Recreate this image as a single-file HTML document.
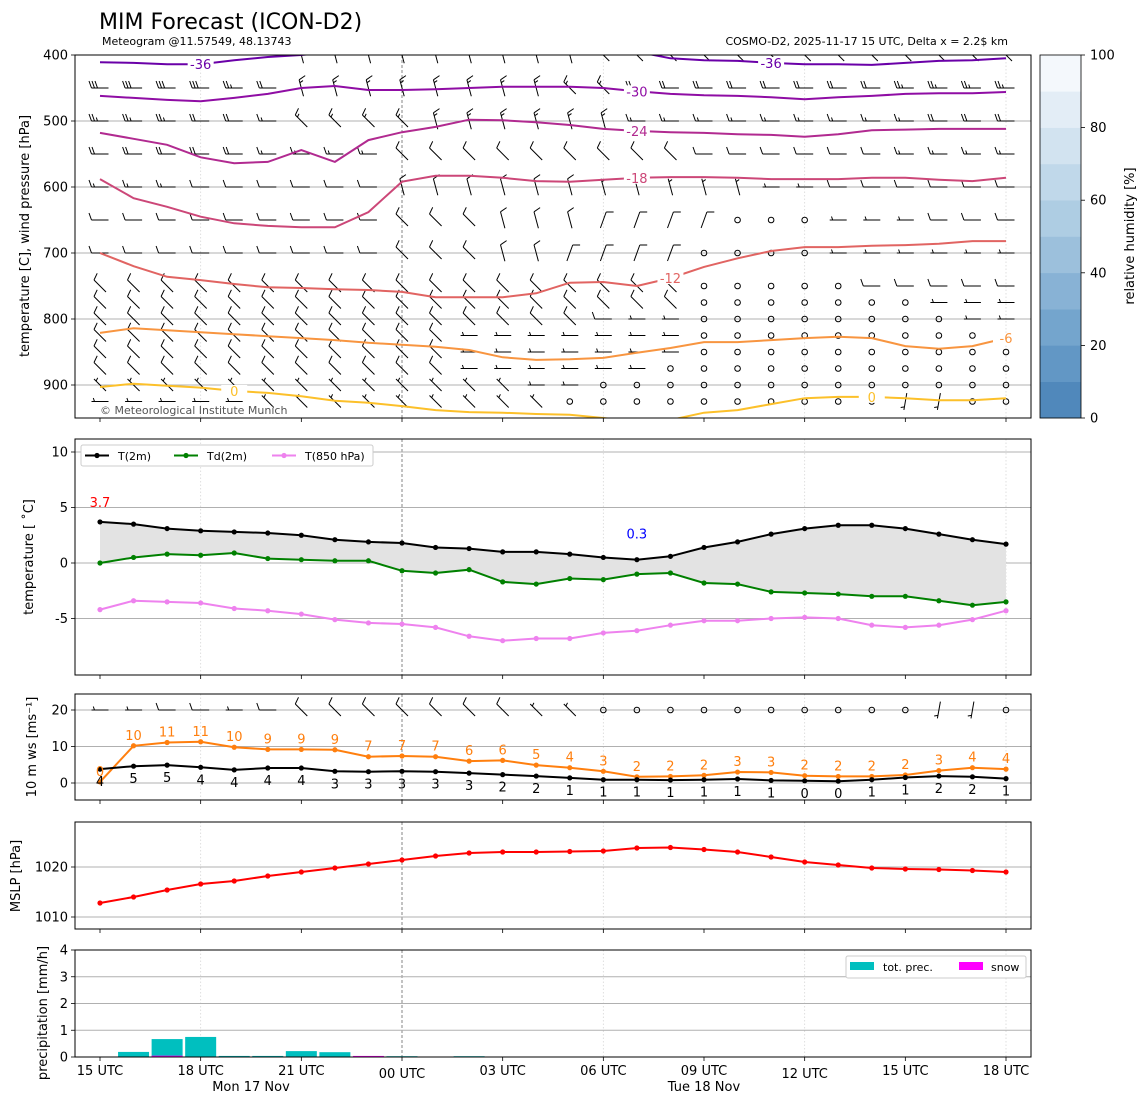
<!DOCTYPE html>
<html><head><meta charset="utf-8">
<style>
html,body{margin:0;padding:0;background:#fff;}
svg{display:block;font-family:"DejaVu Sans","Liberation Sans",sans-serif;}
</style></head>
<body>
<svg id="chart" width="1148" height="1105" viewBox="0 0 1148 1105" xmlns="http://www.w3.org/2000/svg">
<defs>
<clipPath id="c1"><rect x="75" y="55" width="956" height="363"/></clipPath>
<clipPath id="c2"><rect x="75" y="439" width="956" height="236"/></clipPath>
</defs>
<text x="99" y="29" font-size="22" fill="#000">MIM Forecast (ICON-D2)</text>
<text x="102" y="45" font-size="11" fill="#000">Meteogram @11.57549, 48.13743</text>
<text x="1008" y="45" font-size="11" fill="#000" text-anchor="end">COSMO-D2, 2025-11-17 15 UTC, Delta x = 2.2$ km</text>
<g id="root"></g>
</svg>
<script>
// ---------- data ----------
const hours = [15,16,17,18,19,20,21,22,23,0,1,2,3,4,5,6,7,8,9,10,11,12,13,14,15,16,17,18];
const xTickLabels = ["15 UTC","18 UTC","21 UTC","00 UTC","03 UTC","06 UTC","09 UTC","12 UTC","15 UTC","18 UTC"];
const isoLevels = [-36,-30,-24,-18,-12,-6,0];
const iso_m36 = [411,412,414,414,408,403,400,395,395,395,395,395,395,395,395,395,395,405,408,409,412,414,414,415,412,409,408,405];
const iso_m30 = [462,465,468,470,465,459,450,447,453,453,452,450,448,448,448,450,455,459,461,462,464,467,464,462,459,458,458,456];
const iso_m24 = [518,527,536,555,564,562,544,562,529,517,509,498,499,502,506,512,515,517,518,520,521,524,520,514,513,512,512,512];
const iso_m18 = [588,617,630,645,655,659,661,661,638,592,583,583,586,591,592,589,586,585,585,586,588,588,588,586,586,589,591,586];
const iso_m12 = [700,720,736,741,747,752,753,755,756,759,767,767,767,761,745,744,750,738,721,708,697,691,691,689,688,686,682,682];
const iso_m6  = [821,814,817,820,823,826,829,832,836,839,842,847,858,862,861,859,851,844,835,835,832,829,827,829,841,845,841,829];
const iso_0   = [903,898,901,904,909,912,917,924,927,932,938,941,942,944,945,950,956,953,942,938,929,920,918,918,920,923,923,920];
const windLevels = [400,450,500,550,600,650,700,750,775,800,825,850,875,900,925];
const windDir = [
"WWWWWWVVVVVVVVVNNNNNNNNNNNNN","WWWWWWVVVVVVVVNNWWWWWWWWWWWW","WWWWWWNNNNVVVVVVWWWWWWWWWWWW",
"WWWWWWWWWNNNNNNNNNWWWWWWWWWW","WWWWWWWWWVVVVVVVVVVVWWWWWWWW","WWWWWWWWWNNNVVVEEEEWWWWWWWWW",
"WWWWWWWWWNNNVVEEEEWWWWWWWWWW","NNNNNNNNNNNNNNNNNNWWWWWWWWWW","NNNNNNNNNNNNNNNNNNWWWWWWWWWW",
"NNNNNNNNNNNNNNNWWWWWWWWWWWWW","NNNNNNNNNNNWWWWWWWWWWWWWWWWW","NNNNNNNNNNNWWWWWWWWWWWWWWWWW",
"NNNNNNNNNNNWWWWWWWWWWWWWWWWW","NNNNNNNNNNNNNWWWWWWWWWWWWWWW","WWWWWNNNNNNNNNWWWWWWWWWWSSWW"];
const windSpd = [
"6666663333333333444444444444","6666543333333333444444445555","5554433333333333333333333444",
"4444433332222222222222223333","3332222222222221111111222222","2222222222222222222000111222",
"2222222222222222220000111111","2222222222222222220000022222","2222222222222222220000000111",
"2222222222222222110000000011","2222222222211111110000000000","2222222222211111110000000000",
"2222222222211111100000000000","1111111111111110000000000000","1111111111111100000000001100"];
const t2m  = [3.7,3.5,3.1,2.9,2.8,2.7,2.5,2.1,1.9,1.8,1.4,1.3,1.0,1.0,0.8,0.5,0.3,0.6,1.4,1.9,2.6,3.1,3.4,3.4,3.1,2.6,2.1,1.7];
const td2m = [0.0,0.5,0.8,0.7,0.9,0.4,0.3,0.2,0.2,-0.7,-0.9,-0.6,-1.7,-1.9,-1.4,-1.5,-1.0,-0.9,-1.8,-1.9,-2.6,-2.7,-2.8,-3.0,-3.0,-3.4,-3.8,-3.5];
const t850 = [-4.2,-3.4,-3.5,-3.6,-4.1,-4.3,-4.6,-5.1,-5.4,-5.5,-5.8,-6.6,-7.0,-6.8,-6.8,-6.3,-6.1,-5.6,-5.2,-5.2,-5.0,-4.9,-5.0,-5.6,-5.8,-5.6,-5.1,-4.3];
const ws10 = [3.8,4.6,4.9,4.3,3.6,4.1,4.1,3.2,3.1,3.2,3.1,2.7,2.3,1.9,1.4,0.9,0.9,0.8,0.9,1.1,0.7,0.6,0.5,0.9,1.5,1.9,1.7,1.2];
const ws10Labels = [4,5,5,4,4,4,4,3,3,3,3,3,2,2,1,1,1,1,1,1,1,0,0,1,1,2,2,1];
const gust = [0.3,10.2,11.1,11.3,9.8,9.2,9.2,9.1,7.2,7.4,7.2,6.0,6.2,4.9,4.2,3.2,1.7,1.8,2.1,3.0,2.9,2.0,1.8,1.8,2.2,3.4,4.2,3.8];
const gustLabels = [0,10,11,11,10,9,9,9,7,7,7,6,6,5,4,3,2,2,2,3,3,2,2,2,2,3,4,4];
const wind10Dir = "WWWWWWNNNNNNNNNWWWWWWWWWWSSW";
const wind10Spd = "1122122222222110000000000110";
const mslp = [1012.8,1014.0,1015.4,1016.6,1017.2,1018.2,1019.0,1019.8,1020.6,1021.4,1022.2,1022.8,1023.0,1023.0,1023.1,1023.2,1023.8,1023.9,1023.5,1023.0,1022.0,1021.0,1020.4,1019.8,1019.6,1019.5,1019.3,1019.0];
const precTot  = [0,0.19,0.67,0.75,0.04,0.04,0.22,0.18,0,0.03,0,0.03,0,0,0,0,0,0,0,0,0,0,0,0,0,0,0,0];
const precSnow = [0,0,0.05,0,0,0,0,0,0.04,0,0,0,0,0,0,0,0,0,0,0,0,0,0,0,0,0,0,0];

// ---------- scales ----------
const X = i => 100 + i * 906 / 27;
const yP = p => 55 + (p - 400) * 0.66;
const yT = t => 563 - t * 11.1;
const yW = v => 783 - v * 3.65;
const yM = v => 867 - (v - 1020) * 5;
const yR = v => 1057 - v * 26.75;

const NS = "http://www.w3.org/2000/svg";
const root = document.getElementById('root');
function el(tag, attrs, parent) {
  const e = document.createElementNS(NS, tag);
  for (const k in attrs) e.setAttribute(k, attrs[k]);
  (parent || root).appendChild(e);
  return e;
}
function txt(x, y, s, size, fill, anchor, parent) {
  const t = el('text', {x:x, y:y, 'font-size':size, fill:fill||'#000', 'text-anchor':anchor||'middle'}, parent);
  t.textContent = s;
  return t;
}
const panels = [[55,418],[439,675],[694,800],[822,929],[950,1057]];

panels.forEach(([t,b],pi) => {
  [3,15,21,27].forEach(i => {
    const g = el('line', {x1:X(i), x2:X(i), y1:t, y2:b, stroke:'#d8d8d8', 'stroke-width':0.8, 'stroke-dasharray':'1.5,2'});
    
    
  });
  const d = el('line', {x1:X(9), x2:X(9), y1:t, y2:b, stroke:'#666', 'stroke-width':0.8, 'stroke-dasharray':'3,2'});
  
  
});
function hgrid(y, pi) {
  const g = el('line', {x1:75, x2:1031, y1:y, y2:y, stroke:'#b0b0b0', 'stroke-width':1});
  
  
}
function ytick(y, label) {
  el('line', {x1:71, x2:75, y1:y, y2:y, stroke:'#000', 'stroke-width':0.8});
  const t = txt(68, y + 4.5, label, 13, '#000', 'end');
  
  
}
function ylabel(x, y, s) {
  const t = el('text', {x:x, y:y, 'font-size':13, 'text-anchor':'middle', transform:'rotate(-90 '+x+' '+y+')'});
  t.textContent = s;
  
  
}

// ---------- panel 1 ----------
[500,600,700,800,900].forEach(p => hgrid(yP(p)));
[400,500,600,700,800,900].forEach(p => ytick(yP(p), String(p)));
ylabel(29, 236, 'temperature [C], wind pressure [hPa]');

function barb(x, y, ch, digit, parent) {
  const kt = digit * 5;
  if (kt < 3) {
    const c = el('circle', {cx:x, cy:y, r:2.8, fill:'none', stroke:'#000', 'stroke-width':1}, parent);
    
    
    return;
  }
  const deg = {W:270, N:315, V:345, E:20, S:190}[ch] || 270;
  const r = deg * Math.PI / 180;
  const ux = Math.sin(r), uy = -Math.cos(r);
  const px = -uy, py = ux;
  const L = 17;
  const bx = x - ux * L / 2, by = y - uy * L / 2;
  const tx = x + ux * L / 2, ty = y + uy * L / 2;
  let d = 'M' + bx.toFixed(1) + ',' + by.toFixed(1) + 'L' + tx.toFixed(1) + ',' + ty.toFixed(1);
  let full = Math.floor(kt / 10), half = (kt % 10) >= 5;
  let pos = 0;
  for (let k = 0; k < full; k++) {
    const sx = tx - ux * pos, sy = ty - uy * pos;
    d += 'M' + sx.toFixed(1) + ',' + sy.toFixed(1) + 'l' + (px * 7 + ux * 2.5).toFixed(1) + ',' + (py * 7 + uy * 2.5).toFixed(1);
    pos += 3;
  }
  if (half) {
    if (full === 0) pos = 3;
    const sx = tx - ux * pos, sy = ty - uy * pos;
    d += 'M' + sx.toFixed(1) + ',' + sy.toFixed(1) + 'l' + (px * 3.5 + ux * 1.2).toFixed(1) + ',' + (py * 3.5 + uy * 1.2).toFixed(1);
  }
  const b = el('path', {d:d, stroke:'#000', 'stroke-width':1, fill:'none'}, parent);
  
  
}
const barbG = el('g', {'clip-path':'url(#c1)'});


windLevels.forEach((p, li) => {
  for (let i = 0; i < hours.length; i++) {
    barb(X(i), yP(p), windDir[li][i], +windSpd[li][i], barbG);
  }
});

const isoSeries = [iso_m36, iso_m30, iso_m24, iso_m18, iso_m12, iso_m6, iso_0];
const isoColors = ['#6a00a8','#8f0da4','#b12a90','#cc4778','#e16462','#f89540','#fcc02a'];
const isoLabelIdx = [[3,20],[16],[16],[16],[17],[27],[4,23]];
const isoG = el('g', {'clip-path':'url(#c1)'});


isoSeries.forEach((arr, k) => {
  const d = arr.map((p, i) => (i ? 'L' : 'M') + X(i).toFixed(1) + ',' + yP(p).toFixed(1)).join('');
  const pl = el('path', {d:d, stroke:isoColors[k], 'stroke-width':2, fill:'none'}, isoG);
  
  
  isoLabelIdx[k].forEach(i => {
    const y = yP(arr[i]);
    el('rect', {x:X(i) - 13, y:y - 6, width:26, height:12, fill:'#fff'}, isoG);
    const t = txt(X(i), y + 5, String(isoLevels[k]), 13, isoColors[k], 'middle', isoG);
    
    
  });
});
const cp = txt(100, 414, '© Meteorological Institute Munich', 11, '#555', 'start');



// colorbar
const cbColors = ['#5088bb','#6297c5','#74a5cd','#88b2d5','#9cc0dc','#aecde3','#c0d8ea','#d2e3f0','#e3edf6','#f4f8fc'];
cbColors.forEach((c, i) => {
  const r = el('rect', {x:1040, y:418 - (i + 1) * 36.3, width:41, height:36.6, fill:c});
  
  
});
el('rect', {x:1040, y:55, width:41, height:363, fill:'none', stroke:'#000', 'stroke-width':0.8});
[0,20,40,60,80,100].forEach(v => {
  const y = 418 - v * 3.63;
  el('line', {x1:1081, x2:1085, y1:y, y2:y, stroke:'#000', 'stroke-width':0.8});
  const t = txt(1090, y + 4.5, String(v), 13, '#000', 'start');
  
  
});
const cbl = el('text', {x:1134, y:236, 'font-size':13, 'text-anchor':'middle', transform:'rotate(-90 1134 236)'});
cbl.textContent = 'relative humidity [%]';



// ---------- panel 2 ----------
[10,5,0,-5].forEach(v => { hgrid(yT(v)); ytick(yT(v), String(v)); });
ylabel(33, 557, 'temperature [ ˚C]');
const p2 = el('g', {'clip-path':'url(#c2)'});


let fillD = t2m.map((v, i) => (i ? 'L' : 'M') + X(i).toFixed(1) + ',' + yT(v).toFixed(1)).join('');
for (let i = td2m.length - 1; i >= 0; i--) fillD += 'L' + X(i).toFixed(1) + ',' + yT(td2m[i]).toFixed(1);
const fa = el('path', {d:fillD + 'Z', fill:'#e3e3e3', stroke:'none'}, p2);


function series(arr, yf, color, name, parent, r) {
  const d = arr.map((v, i) => (i ? 'L' : 'M') + X(i).toFixed(1) + ',' + yf(v).toFixed(1)).join('');
  const l = el('path', {d:d, stroke:color, 'stroke-width':2, fill:'none'}, parent);
  
  
  arr.forEach((v, i) => {
    const c = el('circle', {cx:X(i), cy:yf(v), r:r || 2.6, fill:color}, parent);
    
    
  });
}
series(t850, yT, '#ee82ee', 't850', p2);
series(td2m, yT, '#008000', 'td2m', p2);
series(t2m, yT, '#000000', 't2m', p2);
const maxI = t2m.indexOf(Math.max(...t2m));
const minI = t2m.indexOf(Math.min(...t2m));
const mxl = txt(X(maxI), yT(t2m[maxI]) - 15, t2m[maxI].toFixed(1), 13, '#ff0000');


const mnl = txt(X(minI), yT(t2m[minI]) - 21, t2m[minI].toFixed(1), 13, '#0000ff');


const lg = el('g', {});


el('rect', {x:81, y:445, width:292, height:21, rx:2, fill:'#fff', stroke:'#ccc', 'stroke-width':1}, lg);
[['T(2m)','#000',85],['Td(2m)','#008000',174],['T(850 hPa)','#ee82ee',272]].forEach(([s,c,x]) => {
  el('line', {x1:x, x2:x + 24, y1:455.5, y2:455.5, stroke:c, 'stroke-width':2}, lg);
  el('circle', {cx:x + 12, cy:455.5, r:2.6, fill:c}, lg);
  const t = txt(x + 33, 460, s, 11, '#000', 'start', lg);
  
  
});

// ---------- panel 3 ----------
[20,10,0].forEach(v => { hgrid(yW(v)); ytick(yW(v), String(v)); });
ylabel(36, 747, '10 m ws [ms⁻¹]');
for (let i = 0; i < hours.length; i++) barb(X(i), yW(20), wind10Dir[i], +wind10Spd[i]);
series(gust, yW, '#ff7f0e', 'gust', root);
series(ws10, yW, '#000000', 'wind-speed', root);
gust.forEach((v, i) => {
  const t = txt(X(i), yW(v) - 6, String(gustLabels[i]), 13, '#ff7f0e');
  
  
});
ws10.forEach((v, i) => {
  const t = txt(X(i), yW(v) + 17, String(ws10Labels[i]), 13, '#000');
  
  
});

// ---------- panel 4 ----------
[1020,1010].forEach(v => { hgrid(yM(v)); ytick(yM(v), String(v)); });
ylabel(20, 876, 'MSLP [hPa]');
series(mslp, yM, '#ff0000', 'mslp', root);

// ---------- panel 5 ----------
[1,2,3,4].forEach(v => hgrid(yR(v)));
[0,1,2,3,4].forEach(v => ytick(yR(v), String(v)));
ylabel(47, 1013, 'precipitation [mm/h]');
precTot.forEach((v, i) => {
  if (v <= 0) return;
  const r = el('rect', {x:X(i) - 15.5, y:yR(v), width:31, height:1057 - yR(v), fill:'#00bfbf'});
  
  
});
precSnow.forEach((v, i) => {
  if (v <= 0) return;
  const r = el('rect', {x:X(i) - 15.5, y:yR(v), width:31, height:1057 - yR(v), fill:'#ff00ff'});
  
  
});
const pl = el('g', {});


el('rect', {x:846, y:956, width:180, height:22, rx:2, fill:'#fff', stroke:'#ccc'}, pl);
el('rect', {x:850, y:962, width:24, height:8, fill:'#00bfbf'}, pl);
txt(883, 971, 'tot. prec.', 11, '#000', 'start', pl);
el('rect', {x:959, y:962, width:24, height:8, fill:'#ff00ff'}, pl);
txt(991, 971, 'snow', 11, '#000', 'start', pl);

panels.forEach(([t,b]) => {
  const f = el('rect', {x:75, y:t, width:956, height:b - t, fill:'none', stroke:'#000', 'stroke-width':1});
  
  
  xTickLabels.forEach((s, k) => el('line', {x1:X(k*3), x2:X(k*3), y1:b, y2:b + 4, stroke:'#000', 'stroke-width':0.8}));
});
xTickLabels.forEach((s, k) => {
  const low = (s === '00 UTC' || s === '12 UTC') ? 3 : 0;
  const t = txt(X(k*3), 1075 + low, s, 13, '#000');
  
  
});
const d1 = txt(251, 1091, 'Mon 17 Nov', 13);  
const d2 = txt(704, 1091, 'Tue 18 Nov', 13);  
</script>
</body></html>
